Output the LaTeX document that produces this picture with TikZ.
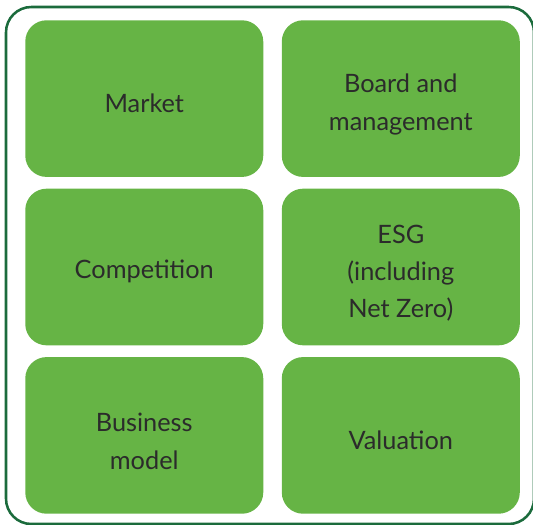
\documentclass[tikz,border=0pt]{standalone}
\usepackage{fontspec}
\setmainfont{Lato}
\usepackage{xcolor}
\usetikzlibrary{positioning}
\definecolor{tilegreen}{HTML}{66B445}
\definecolor{framegreen}{HTML}{1B6B3C}
\definecolor{tiletext}{HTML}{2B2B2B}
\newcommand\tilestrut{\rule{0pt}{23pt}}

\begin{document}
\begin{tikzpicture}[
    x=0.75pt, y=-0.75pt,
    node distance=8.4pt and 13.5pt,
    tile/.style={fill=tilegreen, draw=none, rounded corners=16pt, align=center,
                 text=tiletext, font=\fontsize{19}{28}\selectfont,
                 execute at begin node={\rule{0pt}{21pt}},
                 minimum width=178.5pt, minimum height=117.5pt, inner sep=0pt},
    frame/.style={draw=framegreen, line width=1.9pt, rounded corners=19pt}
  ]
  \useasboundingbox (0,0) rectangle (533,525);
  \draw[frame] (6,7) rectangle (534,524);
  \node[tile, anchor=north west] (market) at (25,20) {Market};
  \node[tile, right=of market] (board) {\tilestrut Board and\\management};
  \node[tile, below=of market] (comp) {Competition};
  \node[tile, below=of board] (esg) {\tilestrut ESG\\(including\\Net Zero)};
  \node[tile, below=of comp] (business) {\tilestrut Business\\model};
  \node[tile, below=of esg] (valuation) {Valuation};
\end{tikzpicture}
\end{document}
